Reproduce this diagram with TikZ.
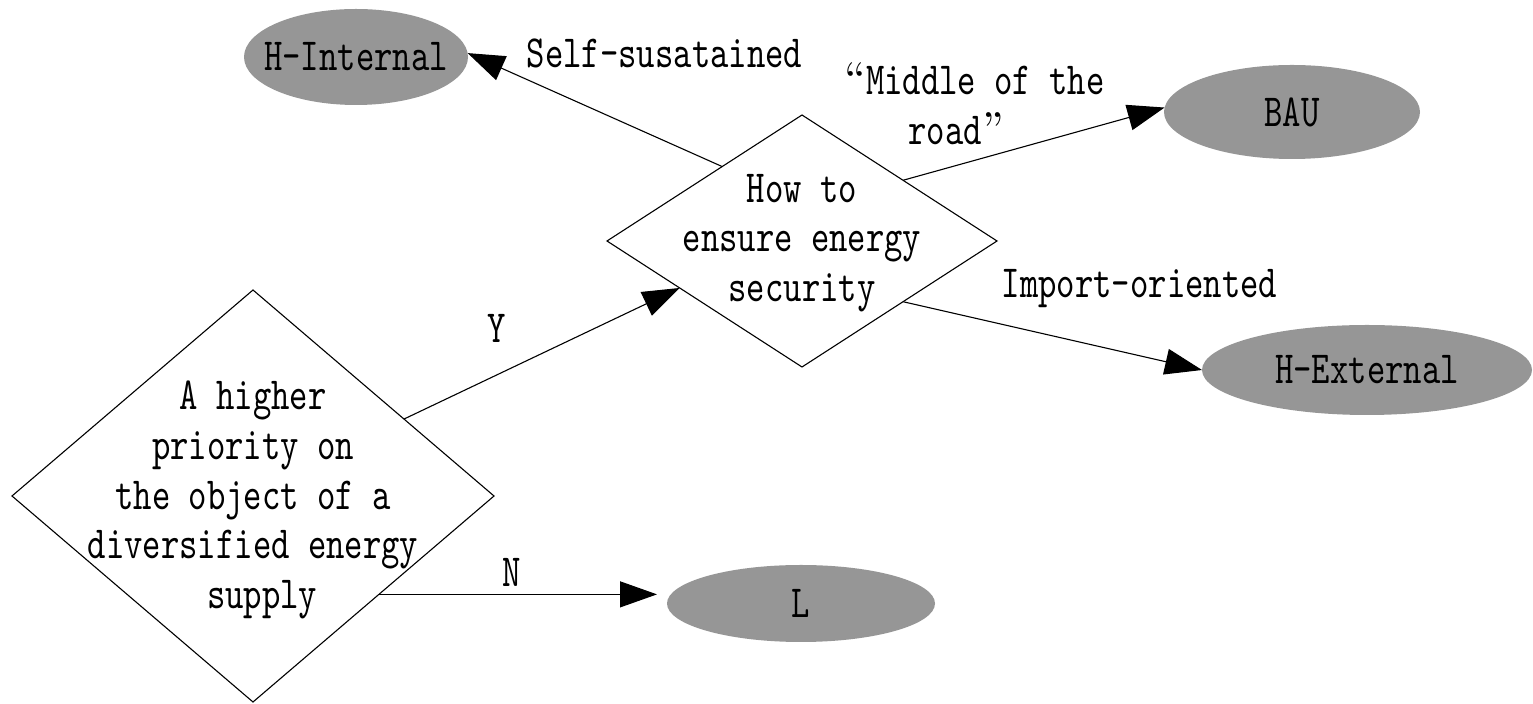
\documentclass[tikz,border=0pt]{standalone}
\usepackage{fontspec}
\usetikzlibrary{shapes.geometric,arrows.meta}
\newfontfamily\diagfont{lmmono10-regular.otf}[FakeStretch=0.76]
\newfontfamily\quotefont{lmroman10-regular.otf}
\definecolor{leafgray}{RGB}{150,150,150}
\begin{document}
\begin{tikzpicture}[x=0.5pt,y=-0.5pt,
  every node/.style={font={\diagfont\fontsize{23pt}{24.8pt}\selectfont}},
  decision/.style={diamond,draw,line width=0.55pt,inner sep=0pt,outer sep=0pt},
  outcome/.style={ellipse,fill=leafgray,inner sep=0pt,outer sep=0pt},
  txt/.style={inner sep=0pt,align=center},
  flow/.style={line width=0.55pt,-{Triangle[length=18.5pt,width=13pt]}},
]
\useasboundingbox (0,0) rectangle (1533,704);

% decisions
\node[decision,minimum width=241pt,minimum height=206pt] (prio) at (253,496) {};
\node[txt] (priotext) at (253,500)
  {A higher\\priority on\\the object of a\\diversified energy\\\hphantom{x}supply};
\node[decision,minimum width=195pt,minimum height=126pt] (secure) at (802,241) {};
\node[txt] (securetext) at (802,243) {How to\\ensure energy\\security};

% outcomes
\node[outcome,minimum width=112pt,minimum height=48pt] (hint) at (356,57) {\makebox[0pt]{H-Internal}};
\node[outcome,minimum width=128pt,minimum height=47pt] (bau) at (1292,112) {\makebox[0pt]{BAU}};
\node[outcome,minimum width=165pt,minimum height=45pt] (hext) at (1367,370) {\makebox[0pt]{H-External}};
\node[outcome,minimum width=134pt,minimum height=38.5pt] (l) at (801,603.5) {\makebox[0pt]{L}};

% connectors
\draw[flow] (secure.137.5) -- (hint.2.5);
\draw[flow] (secure.31.9) -- (bau.178.5);
\draw[flow] (secure.-31.8) -- (hext.west);
\draw[flow] (prio.27.9) -- (secure.201.8);
\draw[flow,shorten >=5pt] (prio.-38.3) -- (prio.-38.3 -| l.west);

% connector labels
\node[txt,anchor=base] (selflbl) at (664.5,68) {Self-susatained};
\node[txt] (midlbl) at (974.5,103.5) {{\quotefont “}Middle of the\\road{\quotefont ”}\hphantom{xx}};
\node[txt,anchor=base] (implbl) at (1139.5,298) {Import-oriented};
\node[txt,anchor=base] (ylbl) at (497,343) {Y};
\node[txt,anchor=base] (nlbl) at (512,587) {N};
\end{tikzpicture}
\end{document}
